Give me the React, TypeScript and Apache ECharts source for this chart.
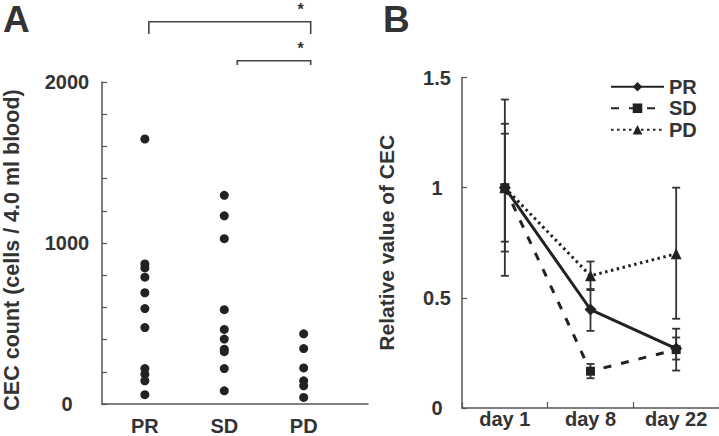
import React, { useEffect, useRef } from "react";
import * as echarts from "echarts";

// Panel A: CEC counts per response group
const groupsA = ["PR", "SD", "PD"];
const prCounts = [1646, 870, 845, 788, 691, 593, 475, 220, 185, 144, 58];
const sdCounts = [1296, 1169, 1027, 586, 463, 403, 340, 325, 220, 82];
const pdCounts = [436, 344, 224, 144, 113, 41];

// Panel B: relative CEC value over time
const days = ["day 1", "day 8", "day 22"];
const prMean = [1, 0.447, 0.27];
const sdMean = [1, 0.167, 0.265];
const pdMean = [1, 0.6, 0.7];
const prLow = [0.71, 0.35, 0.17];
const prHigh = [1.29, 0.54, 0.36];
const sdLow = [0.755, 0.135, 0.22];
const sdHigh = [1.245, 0.2, 0.32];
const pdLow = [0.6, 0.535, 0.405];
const pdHigh = [1.4, 0.665, 1.0];

const FONT = "Liberation Sans, Arial, sans-serif";
const INK = "#222";
const TXT = "#333";
const AX = "#555";

const errItem = (params: any, api: any) => {
  const x = api.value(0);
  const pLo = api.coord([x, api.value(1)]);
  const pHi = api.coord([x, api.value(2)]);
  const hw = 4;
  const style = { stroke: "#333", lineWidth: 1.8 };
  return {
    type: "group",
    children: [
      { type: "line", shape: { x1: pLo[0], y1: pLo[1], x2: pHi[0], y2: pHi[1] }, style },
      { type: "line", shape: { x1: pLo[0] - hw, y1: pLo[1], x2: pLo[0] + hw, y2: pLo[1] }, style },
      { type: "line", shape: { x1: pHi[0] - hw, y1: pHi[1], x2: pHi[0] + hw, y2: pHi[1] }, style },
    ],
  };
};

export default function App() {
  const ref = useRef<HTMLDivElement>(null);
  useEffect(() => {
    if (!ref.current) return;
    const chart = echarts.init(ref.current, null, { renderer: "svg" });
    const labelStyle = { fontFamily: FONT, fontWeight: "bold" as const, fontSize: 20, color: TXT };
    const toPts = (idx: number, arr: number[]) => arr.map((v) => [idx, v]);
    const errData = (lo: number[], hi: number[]) => days.map((_, i) => [i, lo[i], hi[i]]);
    const lineBase = { xAxisIndex: 1, yAxisIndex: 1, z: 5 };
    const dot = { symbolSize: 9, itemStyle: { color: INK, opacity: 1 } };
    chart.setOption({
      animation: false,
      textStyle: { fontFamily: FONT },
      grid: [
        { left: 95, top: 82, width: 273, height: 322 },
        { left: 462, top: 77.5, width: 258, height: 330.5 },
      ],
      xAxis: [
        {
          type: "value",
          gridIndex: 0,
          min: 0.46,
          max: 3.81,
          splitLine: { show: false },
          axisLine: { lineStyle: { color: AX, width: 1.5 } },
          axisTick: { show: false },
          axisLabel: {
            ...labelStyle,
            customValues: [1, 2, 3],
            margin: 12,
            formatter: (v: number) => groupsA[Math.round(v) - 1] ?? "",
          },
        },
        {
          type: "category",
          gridIndex: 1,
          data: days,
          splitLine: { show: false },
          axisLine: { lineStyle: { color: AX, width: 1.5 } },
          axisTick: { show: true, inside: true, length: 6, lineStyle: { color: AX, width: 1.2 } },
          axisLabel: { ...labelStyle, margin: 1 },
        },
      ],
      yAxis: [
        {
          type: "value",
          gridIndex: 0,
          min: 0,
          max: 2000,
          interval: 200,
          splitLine: { show: false },
          axisLine: { show: true, lineStyle: { color: AX, width: 1.5 } },
          axisTick: { show: true, inside: true, length: 5, lineStyle: { color: AX, width: 1.2 } },
          axisLabel: {
            ...labelStyle,
            align: "center",
            margin: 35,
            padding: [6, 0, 0, 0],
            formatter: (v: number) => (v % 1000 === 0 ? String(v) : ""),
          },
          name: "CEC count (cells / 4.0 ml blood)",
          nameLocation: "middle",
          nameGap: 79,
          nameTextStyle: { ...labelStyle, fontSize: 21.5, padding: [0, 14, 0, 0] },
        },
        {
          type: "value",
          gridIndex: 1,
          min: 0,
          max: 1.5,
          interval: 0.5,
          splitLine: { show: false },
          axisLine: { show: true, lineStyle: { color: AX, width: 1.5 } },
          axisTick: { show: true, inside: true, length: 5, lineStyle: { color: AX, width: 1.2 } },
          axisLabel: { ...labelStyle, align: "center", margin: 25, padding: [5, 0, 0, 0] },
          name: "Relative value of CEC",
          nameLocation: "middle",
          nameGap: 65,
          nameTextStyle: { ...labelStyle, fontSize: 21 },
        },
      ],
      legend: {
        data: ["PR", "SD", "PD"],
        orient: "vertical",
        left: 605,
        top: 71,
        itemWidth: 53,
        itemHeight: 12,
        itemGap: 0,
        textStyle: { ...labelStyle, lineHeight: 21.5 },
      },
      series: [
        { type: "scatter", name: "A-PR", xAxisIndex: 0, yAxisIndex: 0, data: toPts(1, prCounts), ...dot },
        { type: "scatter", name: "A-SD", xAxisIndex: 0, yAxisIndex: 0, data: toPts(2, sdCounts), ...dot },
        { type: "scatter", name: "A-PD", xAxisIndex: 0, yAxisIndex: 0, data: toPts(3, pdCounts), ...dot },
        { type: "custom", name: "PR err", xAxisIndex: 1, yAxisIndex: 1, renderItem: errItem, data: errData(prLow, prHigh), encode: { x: 0, y: [1, 2] }, z: 3 },
        { type: "custom", name: "SD err", xAxisIndex: 1, yAxisIndex: 1, renderItem: errItem, data: errData(sdLow, sdHigh), encode: { x: 0, y: [1, 2] }, z: 3 },
        { type: "custom", name: "PD err", xAxisIndex: 1, yAxisIndex: 1, renderItem: errItem, data: errData(pdLow, pdHigh), encode: { x: 0, y: [1, 2] }, z: 3 },
        {
          ...lineBase, type: "line", name: "PR", data: prMean, symbol: "diamond", symbolSize: 12,
          itemStyle: { color: INK }, lineStyle: { color: INK, width: 3 },
        },
        {
          ...lineBase, type: "line", name: "SD", data: sdMean, symbol: "rect", symbolSize: 9,
          itemStyle: { color: INK }, lineStyle: { color: INK, width: 3, type: [8, 10] },
        },
        {
          ...lineBase, type: "line", name: "PD", data: pdMean, symbol: "triangle", symbolSize: 11,
          itemStyle: { color: INK }, lineStyle: { color: INK, width: 3, type: [2.5, 3.5] },
        },
      ],
    });

    const xp = (v: number) => chart.convertToPixel({ xAxisIndex: 0 }, v) as number;
    const xPR = xp(1) + 4;
    const xSD = xp(2) + 13;
    const xPD = xp(3) + 7;
    const brStyle = { stroke: "#444", lineWidth: 1.6, fill: "none" };
    chart.setOption({
      graphic: [
        { type: "text", left: 3, top: 1, style: { text: "A", font: `bold 37px ${FONT}`, fill: TXT } },
        { type: "text", left: 383, top: 1, style: { text: "B", font: `bold 37px ${FONT}`, fill: TXT } },
        { type: "polyline", shape: { points: [[xPR, 34], [xPR, 21.7], [xPD, 21.7], [xPD, 34]] }, style: brStyle },
        { type: "polyline", shape: { points: [[xSD, 65], [xSD, 60.7], [xPD, 60.7], [xPD, 65]] }, style: brStyle },
        { type: "text", x: xPD - 10, y: 9, style: { text: "*", font: `bold 16px ${FONT}`, fill: TXT, align: "center", verticalAlign: "middle" } },
        { type: "text", x: xPD - 10, y: 48, style: { text: "*", font: `bold 16px ${FONT}`, fill: TXT, align: "center", verticalAlign: "middle" } },
      ],
    });
    return () => chart.dispose();
  }, []);
  return <div ref={ref} style={{ width: 719, height: 436, position: "absolute", left: 0, top: 0 }} />;
}
